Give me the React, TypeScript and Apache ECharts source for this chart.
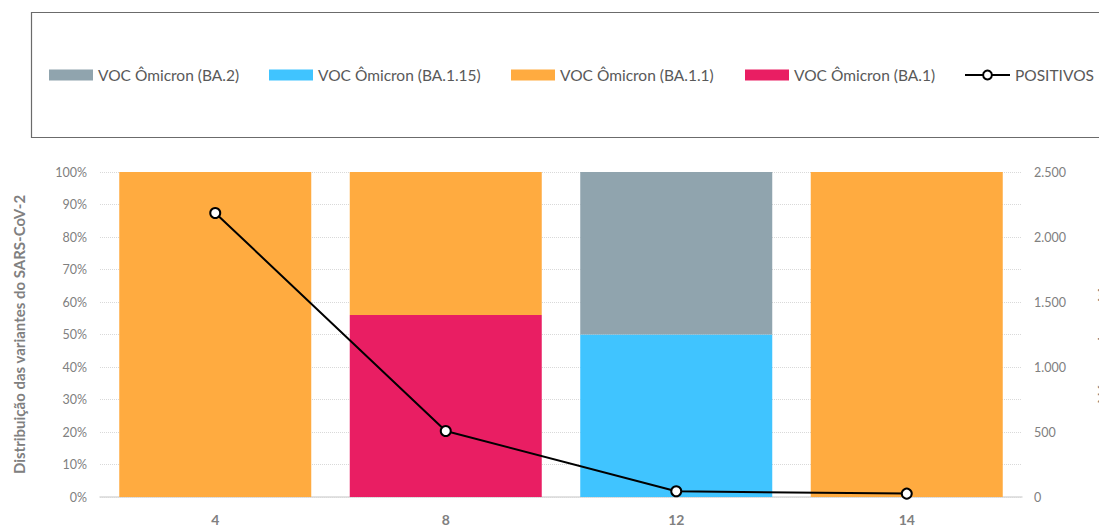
import React, { useEffect, useRef } from "react";
import * as echarts from "echarts";

const categories = ["4", "8", "12", "14"];
const ba1 = [0, 56, 0, 0];
const ba11 = [100, 44, 0, 100];
const ba115 = [0, 0, 50, 0];
const ba2 = [0, 0, 50, 0];
const positivos = [2185, 508, 44, 26];
const leftTicks = { min: 0, max: 100, interval: 10 };
const rightTicks = { min: 0, max: 2500, interval: 500 };
const legendNames = [
  "VOC Ômicron (BA.2)",
  "VOC Ômicron (BA.1.15)",
  "VOC Ômicron (BA.1.1)",
  "VOC Ômicron (BA.1)",
  "POSITIVOS",
];

const GRAY = "#808080";
const FONT = "Lato";
const LEGEND_LEFT = [49, 269, 511, 745, 964];

export default function App() {
  const ref = useRef<HTMLDivElement>(null);
  useEffect(() => {
    document.body.style.margin = "0";
    const chart = echarts.init(ref.current!, null, { renderer: "svg" });
    const fmt = (v: number) => String(v).replace(/\B(?=(\d{3})+(?!\d))/g, ".");
    const bar = (name: string, data: number[], color: string) => ({
      name,
      type: "bar",
      stack: "v",
      data,
      barCategoryGap: "16.7%",
      itemStyle: { color },
      emphasis: { disabled: true },
    });
    const legends = legendNames.map((n, i) => ({
      left: LEGEND_LEFT[i],
      top: 67,
      padding: 0,
      itemWidth: i === 4 ? 45 : 44,
      itemHeight: 11,
      selectedMode: false,
      textStyle: { color: "#595959", fontSize: 15.5, fontFamily: FONT },
      data: [i === 4 ? { name: n } : { name: n, icon: "rect" }],
    }));
    chart.setOption({
      animation: false,
      textStyle: { fontFamily: FONT },
      graphic: [
        {
          type: "rect",
          shape: { x: 31.5, y: 12.5, width: 1100, height: 125 },
          style: { fill: "none", stroke: "#6b6b6b", lineWidth: 1.2 },
          z: 0,
        },
      ],
      legend: legends,
      grid: { left: 100, right: 77, top: 172, bottom: 29, outerBoundsMode: "none" },
      xAxis: {
        type: "category",
        data: categories,
        axisLine: { lineStyle: { color: "#d9d9d9", width: 1.5 } },
        axisTick: { show: false },
        axisLabel: { color: GRAY, fontWeight: "bold", fontSize: 14, margin: 15 },
      },
      yAxis: [
        {
          type: "value",
          ...leftTicks,
          name: "Distribuição das variantes do SARS-CoV-2",
          nameLocation: "middle",
          nameGap: 74,
          nameTextStyle: { color: GRAY, fontWeight: "bold", fontSize: 15, fontFamily: FONT },
          axisLabel: { color: GRAY, fontSize: 12.5, formatter: "{value}%", margin: 13 },
          splitLine: { lineStyle: { color: "#d9d9d9", type: "dotted" } },
          axisLine: { show: false },
        },
        {
          type: "value",
          ...rightTicks,
          name: "Número de positivos",
          nameLocation: "middle",
          nameGap: 73,
          nameTextStyle: { color: GRAY, fontWeight: "bold", fontSize: 15, fontFamily: FONT },
          axisLabel: { color: GRAY, fontSize: 12.5, formatter: (v: number) => fmt(v), margin: 12 },
          splitLine: { show: false },
          axisLine: { show: false },
        },
      ],
      series: [
        bar("VOC Ômicron (BA.1)", ba1, "#E91E63"),
        bar("VOC Ômicron (BA.1.1)", ba11, "#FFAB40"),
        bar("VOC Ômicron (BA.1.15)", ba115, "#40C4FF"),
        bar("VOC Ômicron (BA.2)", ba2, "#90A4AE"),
        {
          name: "POSITIVOS",
          type: "line",
          yAxisIndex: 1,
          data: positivos,
          symbol: "circle",
          symbolSize: 10,
          lineStyle: { color: "#000", width: 2 },
          itemStyle: { color: "#fff", borderColor: "#000", borderWidth: 2 },
          emphasis: { disabled: true },
          z: 5,
        },
      ],
    });
    return () => chart.dispose();
  }, []);
  return <div ref={ref} style={{ width: 1099, height: 526 }} />;
}
